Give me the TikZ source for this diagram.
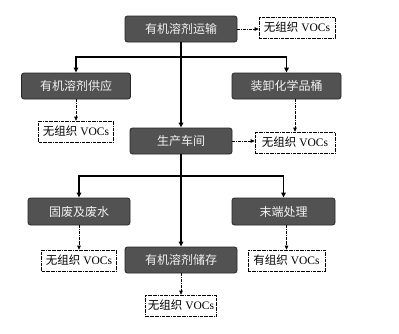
\documentclass[tikz,border=0pt]{standalone}
\usepackage{fontspec}
\setmainfont{Liberation Serif}
\newfontfamily\cjk{Noto Sans CJK SC}
\usetikzlibrary{arrows.meta}
\begin{document}
\begin{tikzpicture}[x=1pt,y=-1pt,
  proc/.style={draw=black!85,line width=0.8pt,fill=black!68,rounded corners=2.5pt,text=black!5,font=\cjk\fontsize{12}{14}\selectfont,inner sep=0pt,anchor=center},
  voc/.style={draw=black,densely dashdotted,line width=0.6pt,inner sep=0pt,font=\fontsize{11.5}{13}\selectfont,anchor=center},
  main/.style={line width=1.5pt,-{Triangle[length=5pt,width=4.5pt]}},
  emit/.style={line width=0.6pt,densely dashdotted,-{Triangle[length=4pt,width=3.5pt]}}]
\useasboundingbox (0,0) rectangle (399,333);
\node[proc,minimum width=112pt,minimum height=26pt] (t) at (181,29) {有机溶剂运输};
\node[voc,minimum width=76pt,minimum height=21pt] (vt) at (297,27.5) {{\cjk 无组织} VOCs};
\node[proc,minimum width=109pt,minimum height=26pt] (l1) at (76,86) {有机溶剂供应};
\node[proc,minimum width=109pt,minimum height=26pt] (r1) at (286.5,86) {装卸化学品桶};
\node[voc,minimum width=75pt,minimum height=21pt] (vl1) at (76,131.5) {{\cjk 无组织} VOCs};
\node[proc,minimum width=102pt,minimum height=26pt] (m) at (181,141) {生产车间};
\node[voc,minimum width=80pt,minimum height=21pt] (vm) at (295,142.5) {{\cjk 无组织} VOCs};
\node[proc,minimum width=102pt,minimum height=27pt] (l2) at (79,211.5) {固废及废水};
\node[proc,minimum width=103pt,minimum height=27pt] (r2) at (283.5,211.5) {末端处理};
\node[voc,minimum width=75pt,minimum height=21pt] (vl2) at (79,260.5) {{\cjk 无组织} VOCs};
\node[proc,minimum width=112pt,minimum height=26pt] (b) at (181,260) {有机溶剂储存};
\node[voc,minimum width=77pt,minimum height=21pt] (vr2) at (286.5,260.5) {{\cjk 有组织} VOCs};
\node[voc,minimum width=71pt,minimum height=21pt] (vb) at (181,305.5) {{\cjk 无组织} VOCs};
\coordinate (j1) at (181,57);
\coordinate (j2) at (181,176);
% main flow
\draw[main] (t.south) -- (m.north);
\draw[main] (j1) -| (l1.north);
\draw[main] (j1) -| (r1.north);
\draw[main] (m.south) -- (b.north);
\draw[main] (j2) -| (l2.north);
\draw[main] (j2) -| (r2.north);
% emissions
\draw[emit] (t.east) -- (vt.west |- t.east);
\draw[emit] (l1.south) -- (vl1.north);
\draw[emit] (r1.south -| vm.north) -- (vm.north);
\draw[emit] (m.east) -- (vm.west |- m.east);
\draw[emit] (l2.south) -- (vl2.north);
\draw[emit] (r2.south -| vr2.north) -- (vr2.north);
\draw[emit] (b.south) -- (vb.north);
\end{tikzpicture}
\end{document}
